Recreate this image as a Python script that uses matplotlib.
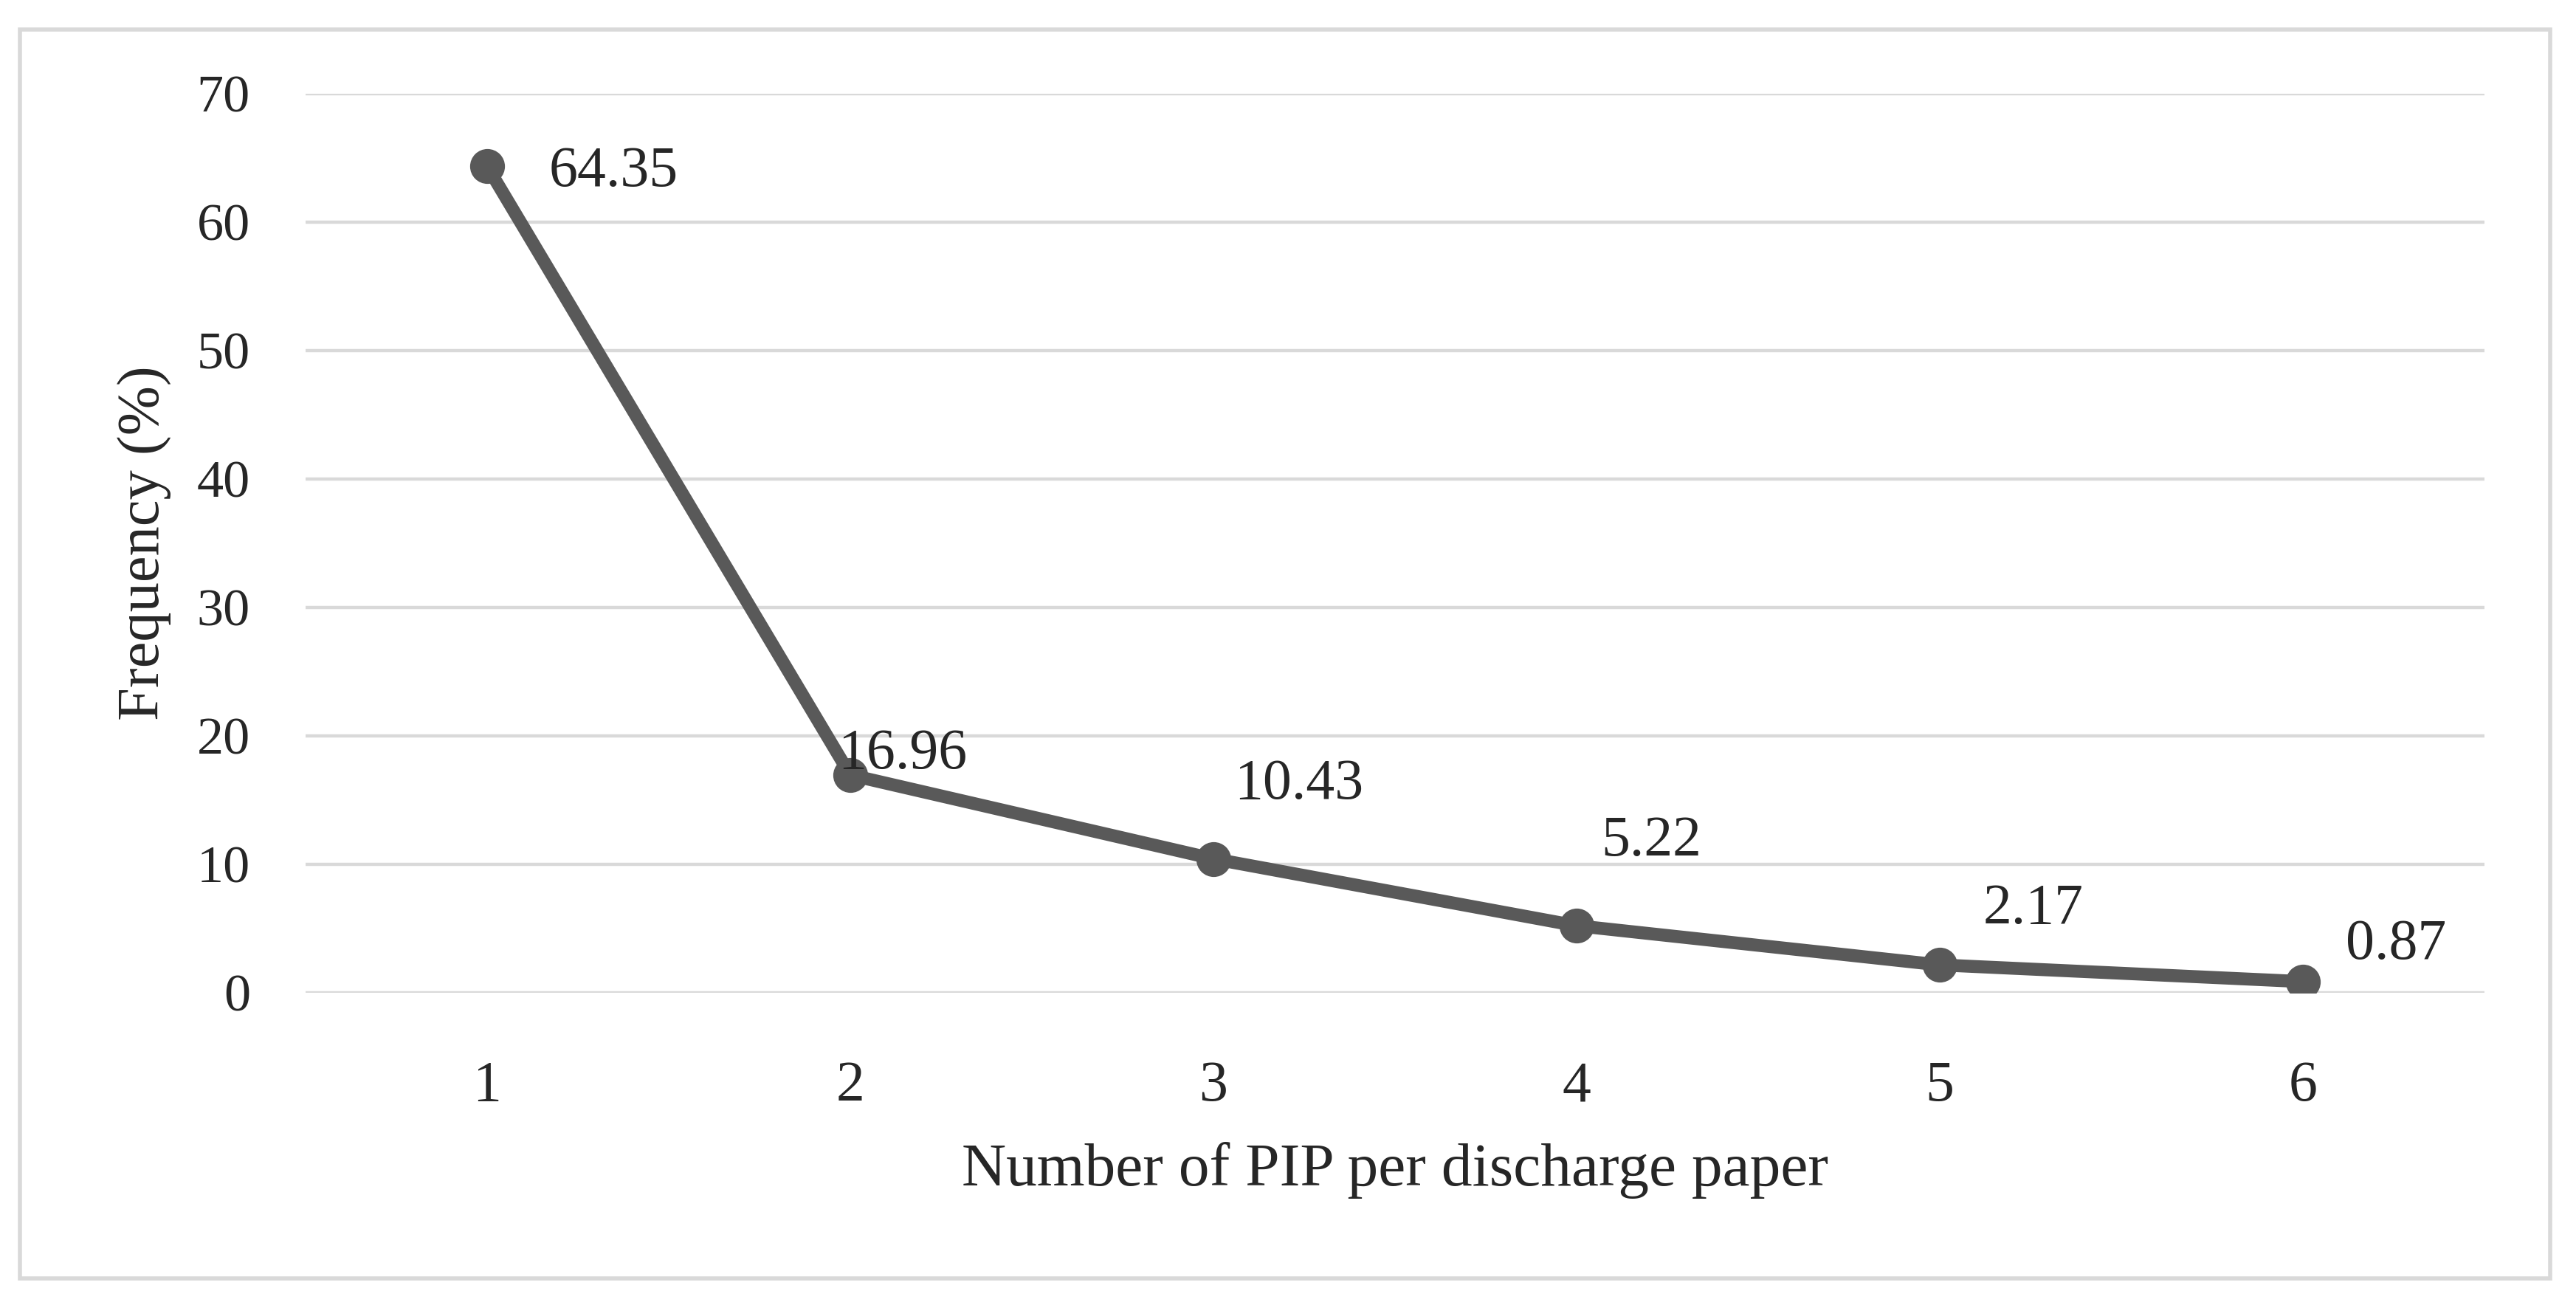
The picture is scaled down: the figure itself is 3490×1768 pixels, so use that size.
# Line chart: frequency of PIP per discharge paper
import matplotlib
matplotlib.use("Agg")
import matplotlib.pyplot as plt
from matplotlib.patches import Rectangle

# ── Data ────────────────────────────────────────────────────
categories = ["1", "2", "3", "4", "5", "6"]
frequency = [64.35, 16.96, 10.43, 5.22, 2.17, 0.87]
y_ticks = [0, 10, 20, 30, 40, 50, 60, 70]

# label offsets (points) from each marker, hand-placed like the original
label_offsets = [(30, -3), (-6, 10), (10, 36), (12, 41), (21, 27), (21, 18)]

# ── Style ───────────────────────────────────────────────────
plt.rcParams["font.family"] = ["Liberation Serif", "DejaVu Serif"]
line_color = "#595959"
grid_color = "#d9d9d9"
text_color = "#262626"
fs_tick = 26
fs_label = 28

fig = plt.figure(figsize=(17.455, 8.84), dpi=200)
fig.patch.set_facecolor("white")

# outer frame
fig.patches.append(Rectangle((27 / 3491, 1 - 1732 / 1768),
                             (3455 - 27) / 3491, (1732 - 40) / 1768,
                             transform=fig.transFigure, fill=False,
                             edgecolor=grid_color, linewidth=2.0))

ax = fig.add_axes([414 / 3491, 1 - 1345 / 1768,
                   (3366 - 414) / 3491, (1345 - 127) / 1768])

x = list(range(1, len(categories) + 1))

for yv in y_ticks:
    ax.axhline(yv, color=grid_color, linewidth=1.6, zorder=1)

ax.plot(x, frequency, color=line_color, linewidth=6.3,
        marker="o", markersize=16, zorder=3, solid_capstyle="round")

for xi, val, (dx, dy) in zip(x, frequency, label_offsets):
    ax.annotate(f"{val:.2f}", (xi, val), xytext=(dx, dy),
                textcoords="offset points", ha="left", va="center",
                fontsize=fs_label, color=text_color)

ax.set_xlim(0.5, len(categories) + 0.5)
ax.set_ylim(0, 70)
ax.set_xticks(x)
ax.set_xticklabels(categories)
ax.set_yticks(y_ticks)

for side in ["top", "right", "left", "bottom"]:
    ax.spines[side].set_visible(False)
ax.tick_params(axis="both", length=0, labelsize=fs_tick, colors=text_color)
ax.tick_params(axis="x", labelsize=fs_label, pad=33)
ax.tick_params(axis="y", pad=27)

ax.set_xlabel("Number of PIP per discharge paper", fontsize=fs_label + 2,
              color=text_color)
ax.xaxis.set_label_coords(0.5, -(1585 - 1345) / (1345 - 127))
ax.xaxis.label.set_va("center")
ax.set_ylabel("Frequency (%)", fontsize=fs_label + 1, color=text_color)
ax.yaxis.set_label_coords(-(414 - 196) / (3366 - 414), 0.5)
ax.yaxis.label.set_va("center")

plt.savefig("out.png", dpi=200, facecolor="white")
plt.close()
